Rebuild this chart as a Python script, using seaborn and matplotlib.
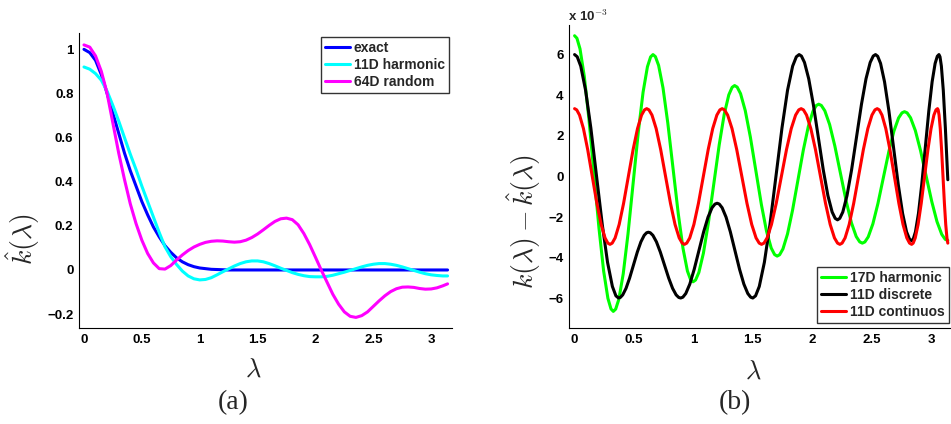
import numpy as np
import pandas as pd
import seaborn as sns
import matplotlib
matplotlib.use("Agg")
import matplotlib.pyplot as plt

# ---------------- panel (a) data ----------------
lam_a = [0.00, 0.05, 0.10, 0.15, 0.20, 0.25, 0.30, 0.35, 0.40, 0.45,
         0.50, 0.55, 0.60, 0.65, 0.70, 0.75, 0.80, 0.85, 0.90, 0.95,
         1.00, 1.05, 1.10, 1.15, 1.20, 1.25, 1.30, 1.35, 1.40, 1.45,
         1.50, 1.55, 1.60, 1.65, 1.70, 1.75, 1.80, 1.85, 1.90, 1.95,
         2.00, 2.05, 2.10, 2.15, 2.20, 2.25, 2.30, 2.35, 2.40, 2.45,
         2.50, 2.55, 2.60, 2.65, 2.70, 2.75, 2.80, 2.85, 2.90, 2.95,
         3.00, 3.05, 3.10, 3.1416]
exact = [1.000, 0.985, 0.950, 0.885, 0.800, 0.710, 0.620, 0.530, 0.450, 0.380,
         0.310, 0.250, 0.195, 0.150, 0.110, 0.080, 0.055, 0.037, 0.024, 0.015,
         0.009, 0.006, 0.003, 0.002, 0.001, 0.000, 0.000, 0.000, 0.000, 0.000,
         0.000, 0.000, 0.000, 0.000, 0.000, 0.000, 0.000, 0.000, 0.000, 0.000,
         0.000, 0.000, 0.000, 0.000, 0.000, 0.000, 0.000, 0.000, 0.000, 0.000,
         0.000, 0.000, 0.000, 0.000, 0.000, 0.000, 0.000, 0.000, 0.000, 0.000,
         0.000, 0.000, 0.000, 0.000]
harm11 = [0.920, 0.910, 0.890, 0.860, 0.810, 0.745, 0.675, 0.600, 0.525, 0.455,
          0.380, 0.310, 0.240, 0.170, 0.105, 0.060, 0.025, -0.005, -0.027, -0.040,
          -0.045, -0.043, -0.035, -0.022, -0.008, 0.005, 0.018, 0.029, 0.037, 0.041,
          0.041, 0.037, 0.029, 0.019, 0.008, -0.002, -0.012, -0.020, -0.026, -0.030,
          -0.031, -0.031, -0.029, -0.024, -0.017, -0.010, -0.002, 0.006, 0.014, 0.021,
          0.026, 0.029, 0.029, 0.026, 0.021, 0.014, 0.006, -0.002, -0.010, -0.017,
          -0.022, -0.025, -0.027, -0.027]
rand64 = [1.020, 1.010, 0.970, 0.900, 0.800, 0.665, 0.530, 0.410, 0.300, 0.210,
          0.135, 0.075, 0.032, 0.006, 0.004, 0.020, 0.045, 0.068, 0.088, 0.104,
          0.116, 0.125, 0.130, 0.132, 0.131, 0.128, 0.126, 0.128, 0.135, 0.147,
          0.163, 0.182, 0.202, 0.220, 0.232, 0.235, 0.228, 0.205, 0.165, 0.115,
          0.058, 0.000, -0.055, -0.110, -0.155, -0.190, -0.210, -0.215, -0.207, -0.190,
          -0.165, -0.140, -0.117, -0.098, -0.085, -0.078, -0.077, -0.079, -0.084, -0.087,
          -0.086, -0.081, -0.072, -0.063]

# ---------------- panel (b) data (units of 1e-3) ----------------
lam_g = [0.0, 0.0196, 0.0456, 0.0815, 0.1206, 0.163, 0.2054, 0.2445, 0.2804, 0.3064,
         0.326, 0.346, 0.3728, 0.4095, 0.4496, 0.493, 0.5364, 0.5765, 0.6132, 0.640,
         0.660, 0.6802, 0.7072, 0.7443, 0.7847, 0.8285, 0.8723, 0.9128, 0.9498, 0.9768,
         0.997, 1.018, 1.046, 1.0845, 1.1265, 1.172, 1.2175, 1.2595, 1.298, 1.326,
         1.347, 1.3685, 1.3971, 1.4365, 1.4795, 1.526, 1.5725, 1.6155, 1.6549, 1.6835,
         1.705, 1.726, 1.754, 1.7925, 1.8345, 1.880, 1.9255, 1.9675, 2.006, 2.034,
         2.055, 2.077, 2.1064, 2.1468, 2.1908, 2.2385, 2.2862, 2.3303, 2.3706, 2.400,
         2.422, 2.4433, 2.4717, 2.5108, 2.5534, 2.5995, 2.6457, 2.6883, 2.7273, 2.7557,
         2.777, 2.7989, 2.828, 2.8682, 2.9119, 2.9593, 3.0067, 3.0505, 3.0906, 3.1197,
         3.1416]
err_g17 = [6.95, 6.828, 6.304, 4.956, 2.847, 0.145, -2.557, -4.666, -6.014, -6.538,
           -6.66, -6.546, -6.058, -4.802, -2.837, -0.32, 2.197, 4.162, 5.418, 5.906,
           6.02, 5.919, 5.487, 4.376, 2.637, 0.41, -1.817, -3.556, -4.667, -5.099,
           -5.2, -5.113, -4.74, -3.78, -2.278, -0.355, 1.568, 3.07, 4.03, 4.403,
           4.49, 4.414, 4.09, 3.256, 1.951, 0.28, -1.391, -2.696, -3.53, -3.854,
           -3.93, -3.863, -3.574, -2.831, -1.669, -0.18, 1.309, 2.471, 3.214, 3.503,
           3.57, 3.508, 3.244, 2.565, 1.502, 0.14, -1.222, -2.285, -2.964, -3.228,
           -3.29, -3.232, -2.982, -2.339, -1.333, -0.045, 1.243, 2.249, 2.892, 3.142,
           3.2, 3.143, 2.898, 2.268, 1.282, 0.02, -1.242, -2.228, -2.858, -3.103,
           -3.16]

lam_k = [0.0, 0.0222, 0.0518, 0.0925, 0.1369, 0.185, 0.2331, 0.2775, 0.3182, 0.3478,
         0.370, 0.3851, 0.4051, 0.4328, 0.4629, 0.4955, 0.5281, 0.5583, 0.5859, 0.6059,
         0.621, 0.6373, 0.6591, 0.689, 0.7216, 0.757, 0.7924, 0.825, 0.8549, 0.8767,
         0.893, 0.9114, 0.936, 0.9698, 1.0066, 1.0465, 1.0864, 1.1233, 1.157, 1.1816,
         1.200, 1.218, 1.242, 1.275, 1.311, 1.350, 1.389, 1.425, 1.458, 1.482,
         1.500, 1.5234, 1.5546, 1.5975, 1.6443, 1.695, 1.7457, 1.7925, 1.8354, 1.8666,
         1.890, 1.9094, 1.9352, 1.9708, 2.0095, 2.0515, 2.0935, 2.1323, 2.1678, 2.1936,
         2.213, 2.2322, 2.2578, 2.293, 2.3314, 2.373, 2.4146, 2.453, 2.4882, 2.5138,
         2.533, 2.5512, 2.5756, 2.609, 2.6455, 2.685, 2.7245, 2.761, 2.7944, 2.8188,
         2.837, 2.8508, 2.8692, 2.8945, 2.9221, 2.952, 2.9819, 3.0095, 3.0348, 3.0532,
         3.067, 3.0758, 3.0874, 3.1035, 3.121, 3.1416]
err_k11 = [6.02, 5.912, 5.449, 4.259, 2.396, 0.01, -2.376, -4.239, -5.429, -5.892,
           -6.0, -5.971, -5.846, -5.524, -5.02, -4.375, -3.73, -3.226, -2.904, -2.779,
           -2.75, -2.779, -2.904, -3.226, -3.73, -4.375, -5.02, -5.524, -5.846, -5.971,
           -6.0, -5.958, -5.778, -5.314, -4.589, -3.66, -2.731, -2.006, -1.542, -1.362,
           -1.32, -1.362, -1.542, -2.006, -2.731, -3.66, -4.589, -5.314, -5.778, -5.958,
           -6.0, -5.892, -5.429, -4.239, -2.376, 0.01, 2.396, 4.259, 5.449, 5.912,
           6.02, 5.947, 5.632, 4.825, 3.56, 1.94, 0.32, -0.945, -1.752, -2.067,
           -2.14, -2.067, -1.752, -0.945, 0.32, 1.94, 3.56, 4.825, 5.632, 5.947,
           6.02, 5.937, 5.583, 4.674, 3.249, 1.425, -0.399, -1.824, -2.733, -3.087,
           -3.17, -3.087, -2.733, -1.824, -0.399, 1.425, 3.249, 4.674, 5.583, 5.937,
           6.02, 5.912, 5.449, 4.259, 2.396, -0.16]

lam_r = [0.0, 0.0179, 0.0417, 0.0745, 0.1103, 0.149, 0.1877, 0.2235, 0.2563, 0.2801,
         0.298, 0.3165, 0.3413, 0.3753, 0.4123, 0.4525, 0.4927, 0.5298, 0.5637, 0.5885,
         0.607, 0.6261, 0.6515, 0.6865, 0.7247, 0.766, 0.8073, 0.8455, 0.8805, 0.9059,
         0.925, 0.944, 0.9694, 1.0043, 1.0423, 1.0835, 1.1247, 1.1628, 1.1976, 1.223,
         1.242, 1.2619, 1.2885, 1.325, 1.3648, 1.408, 1.4512, 1.491, 1.5275, 1.5541,
         1.574, 1.594, 1.6206, 1.6573, 1.6972, 1.7405, 1.7838, 1.8238, 1.8604, 1.887,
         1.907, 1.9266, 1.9526, 1.9885, 2.0276, 2.070, 2.1124, 2.1515, 2.1874, 2.2134,
         2.233, 2.2518, 2.277, 2.3115, 2.3492, 2.390, 2.4308, 2.4685, 2.503, 2.5282,
         2.547, 2.5644, 2.5876, 2.6195, 2.6543, 2.692, 2.7297, 2.7645, 2.7964, 2.8196,
         2.837, 2.8501, 2.8675, 2.8915, 2.9177, 2.946, 2.9743, 3.0005, 3.0245, 3.0419,
         3.055, 3.0605, 3.0679, 3.078, 3.0891, 3.1011, 3.113, 3.1241, 3.1342, 3.1416]
err_r11 = [3.35, 3.29, 3.032, 2.368, 1.33, 0.0, -1.33, -2.368, -3.032, -3.29,
           -3.35, -3.29, -3.032, -2.368, -1.33, 0.0, 1.33, 2.368, 3.032, 3.29,
           3.35, 3.29, 3.032, 2.368, 1.33, 0.0, -1.33, -2.368, -3.032, -3.29,
           -3.35, -3.29, -3.032, -2.368, -1.33, 0.0, 1.33, 2.368, 3.032, 3.29,
           3.35, 3.29, 3.032, 2.368, 1.33, 0.0, -1.33, -2.368, -3.032, -3.29,
           -3.35, -3.29, -3.032, -2.368, -1.33, 0.0, 1.33, 2.368, 3.032, 3.29,
           3.35, 3.29, 3.032, 2.368, 1.33, 0.0, -1.33, -2.368, -3.032, -3.29,
           -3.35, -3.29, -3.032, -2.368, -1.33, 0.0, 1.33, 2.368, 3.032, 3.29,
           3.35, 3.29, 3.032, 2.368, 1.33, 0.0, -1.33, -2.368, -3.032, -3.29,
           -3.35, -3.29, -3.032, -2.368, -1.33, 0.0, 1.33, 2.368, 3.032, 3.29,
           3.35, 3.29, 3.032, 2.368, 1.33, 0.0, -1.33, -2.368, -3.032, -3.29]

labels_a = ["exact", "11D harmonic", "64D random"]
labels_b = ["17D harmonic", "11D discrete", "11D continuos"]
colors_a = ["#0000ff", "#00ffff", "#ff00ff"]
colors_b = ["#00ff00", "#000000", "#ff0000"]
xticks = [0, 0.5, 1, 1.5, 2, 2.5, 3]
xticklabels = ["0", "0.5", "1", "1.5", "2", "2.5", "3"]
yticks_a = [-0.2, 0, 0.2, 0.4, 0.6, 0.8, 1]
yticklabels_a = ["\u22120.2", "0", "0.2", "0.4", "0.6", "0.8", "1"]
yticks_b = [-6, -4, -2, 0, 2, 4, 6]
yticklabels_b = ["\u22126", "\u22124", "\u22122", "0", "2", "4", "6"]

# ---------------- style ----------------
sns.set_style("white")
plt.rcParams["font.family"] = ["Liberation Sans", "DejaVu Sans"]
plt.rcParams["mathtext.fontset"] = "cm"

W, H = 951, 424
fig = plt.figure(figsize=(W / 100, H / 100), dpi=100)
axA = fig.add_axes([79 / W, 1 - 328 / H, 373 / W, 295 / H])
axB = fig.add_axes([569 / W, 1 - 328 / H, 381 / W, 303 / H])

dfA = pd.concat([pd.DataFrame({"lam": lam_a, "val": v, "series": s})
                 for v, s in zip([exact, harm11, rand64], labels_a)])
dfB = pd.concat([pd.DataFrame({"lam": l, "val": v, "series": s})
                 for l, v, s in zip([lam_g, lam_k, lam_r],
                                    [err_g17, err_k11, err_r11], labels_b)])

for s, c in zip(labels_a, colors_a):
    sns.lineplot(data=dfA[dfA.series == s], x="lam", y="val", ax=axA,
                 color=c, lw=2.2, label=s, estimator=None, sort=False)
for s, c in zip(labels_b, colors_b):
    sns.lineplot(data=dfB[dfB.series == s], x="lam", y="val", ax=axB,
                 color=c, lw=2.2, label=s, estimator=None, sort=False)

for ax in (axA, axB):
    for sp in ("top", "right"):
        ax.spines[sp].set_visible(False)
    for sp in ("left", "bottom"):
        ax.spines[sp].set_color("black")
        ax.spines[sp].set_linewidth(0.8)
    ax.tick_params(direction="in", length=4, width=0.8, colors="black",
                   labelsize=9.5, pad=4)
    ax.set_xticks(xticks)
    ax.set_xticklabels(xticklabels, fontweight="bold")
    ax.set_xlabel(r"$\lambda$", fontsize=19)

axA.set_xlim(-0.043, 3.18)
axA.set_ylim(-0.263, 1.074)
axA.set_yticks(yticks_a)
axA.set_yticklabels(yticklabels_a, fontweight="bold")
axA.set_ylabel(r"$\hat{k}(\lambda)$", fontsize=20)
axA.yaxis.set_label_coords(-0.100, 0.30)
axA.xaxis.set_label_coords(0.467, -0.10)

axB.set_xlim(-0.047, 3.16)
axB.set_ylim(-7.48, 7.48)
axB.set_yticks(yticks_b)
axB.set_yticklabels(yticklabels_b, fontweight="bold")
axB.set_ylabel(r"$k(\lambda)-\hat{k}(\lambda)$", fontsize=20)
axB.yaxis.set_label_coords(-0.068, 0.35)
axB.xaxis.set_label_coords(0.483, -0.105)

legkw = dict(prop={"weight": "bold", "size": 10}, frameon=True, fancybox=False,
             edgecolor="black", borderpad=0.3, labelspacing=0.2,
             handlelength=1.8, handletextpad=0.25, borderaxespad=0.0)
lgA = axA.legend(loc="upper right", bbox_to_anchor=(0.992, 0.986), **legkw)
lgB = axB.legend(loc="lower right", bbox_to_anchor=(0.997, 0.017), **legkw)
for lg in (lgA, lgB):
    lg.get_frame().set_linewidth(1.0)
    for ln in lg.get_lines():
        ln.set_linewidth(2.2)

fig.text(568 / W, 1 - 16 / H, r"x 10$^{\mathbf{-3}}$", fontsize=9.5,
         fontweight="bold", ha="left", va="center")
fig.text(233 / W, 1 - 403 / H, "(a)", fontsize=20,
         family=["Liberation Serif", "DejaVu Serif"], ha="center", va="center")
fig.text(735 / W, 1 - 403 / H, "(b)", fontsize=20,
         family=["Liberation Serif", "DejaVu Serif"], ha="center", va="center")

fig.savefig("out.png", dpi=100)
